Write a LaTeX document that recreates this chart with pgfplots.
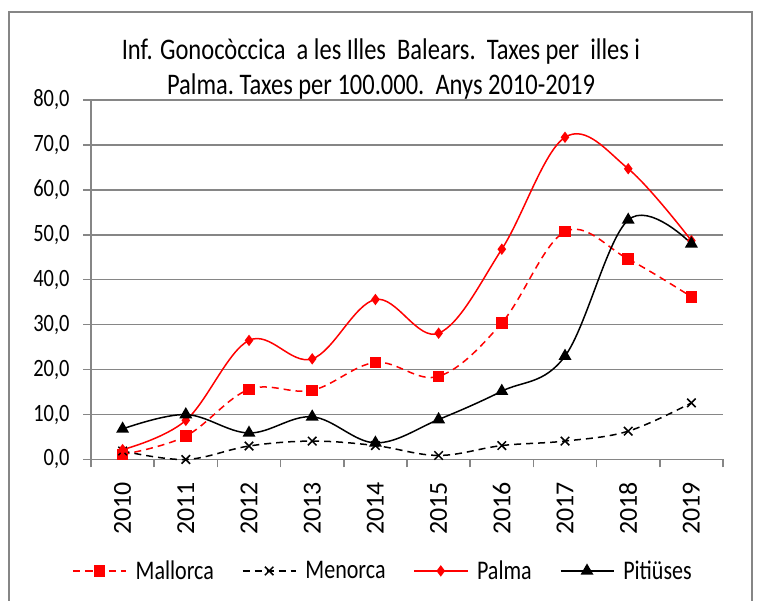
\documentclass[border=0pt]{standalone}
\usepackage{fontspec}
\setmainfont{Carlito}[FakeStretch=0.82]
\newfontfamily\yearfont{Carlito}
\usepackage{pgfplots}
\pgfplotsset{compat=1.18}
\definecolor{gridgray}{RGB}{134,134,134}
\begin{document}
\begin{tikzpicture}[x=1bp,y=1bp]
\useasboundingbox (0,0) rectangle (759,601);
\draw[gridgray, line width=1.5bp] (9,-5) -- (9,589) -- (752,589) -- (752,-5);
\node[align=center, font=\fontsize{30}{35}\selectfont] at (381,532) {Inf. Gonocòccica\ \ a les Illes\ \ Balears.\ \ Taxes per\ \ illes i\\ Palma.\ Taxes per 100.000.\ \ Anys 2010-2019};
\begin{axis}[at={(91bp,141.5bp)}, anchor=south west, scale only axis, width=632bp, height=359.5bp,
  xmin=2009.5, xmax=2019.5, ymin=0, ymax=80, clip=false,
  axis x line*=bottom, axis y line*=left,
  axis line style={gridgray, line width=1.5bp, -},
  ytick={0,10,...,80}, ymajorgrids, grid style={gridgray, line width=1.5bp},
  tick align=outside, major tick length=8bp,
  tick style={gridgray, line width=1.5bp},
  xtick={2009.5,2010.5,...,2019.5}, xticklabels={},
  extra x ticks={2010,2011,2012,2013,2014,2015,2016,2017,2018,2019},
  extra x tick labels={2010,2011,2012,2013,2014,2015,2016,2017,2018,2019},
  extra x tick style={tick style={draw=none}, xticklabel shift=11bp, xticklabel style={rotate=90, anchor=east, font=\yearfont\fontsize{26}{30}\selectfont}},
  yticklabel shift=10bp,
  yticklabel style={font=\fontsize{25}{30}\selectfont, /pgf/number format/.cd, fixed, fixed zerofill, precision=1, use comma, assume math mode=true},
  legend columns=4,
  legend style={at={(0.462,-0.31)}, anchor=center, draw=none, fill=none, font=\fontsize{27}{30}\selectfont,
    /tikz/every odd column/.append style={column sep=7bp},
    /tikz/every even column/.append style={column sep=26bp}},
  legend image code/.code={\draw[mark repeat=2,mark phase=2] plot coordinates {(0bp,0bp)(26.5bp,0bp)(53bp,0bp)};},
  every axis plot/.append style={line width=1.5bp, smooth, tension=0.6},
]
\addplot[red, dash pattern=on 7bp off 5bp, mark=square*, mark size=5bp, mark options={solid}] coordinates {
(2010,1.1)(2011,5.2)(2012,15.6)(2013,15.4)(2014,21.6)(2015,18.5)(2016,30.4)(2017,50.7)(2018,44.6)(2019,36.2)};
\addlegendentry{Mallorca}
\addplot[black, dash pattern=on 7bp off 5bp, mark=x, mark size=6bp, mark options={solid}] coordinates {
(2010,1.9)(2011,0.0)(2012,3.0)(2013,4.1)(2014,3.1)(2015,0.9)(2016,3.1)(2017,4.1)(2018,6.3)(2019,12.6)};
\addlegendentry{Menorca}
\addplot[red, mark=diamond*, mark size=4.5bp] coordinates {
(2010,2.2)(2011,8.7)(2012,26.5)(2013,22.4)(2014,35.6)(2015,28.1)(2016,46.8)(2017,71.7)(2018,64.7)(2019,48.7)};
\addlegendentry{Palma}
\addplot[black, mark=triangle*, mark size=6bp] coordinates {
(2010,6.8)(2011,10.0)(2012,5.9)(2013,9.5)(2014,3.7)(2015,8.9)(2016,15.2)(2017,23.0)(2018,53.3)(2019,48.0)};
\addlegendentry{Pitiüses}
\end{axis}
\end{tikzpicture}
\end{document}
